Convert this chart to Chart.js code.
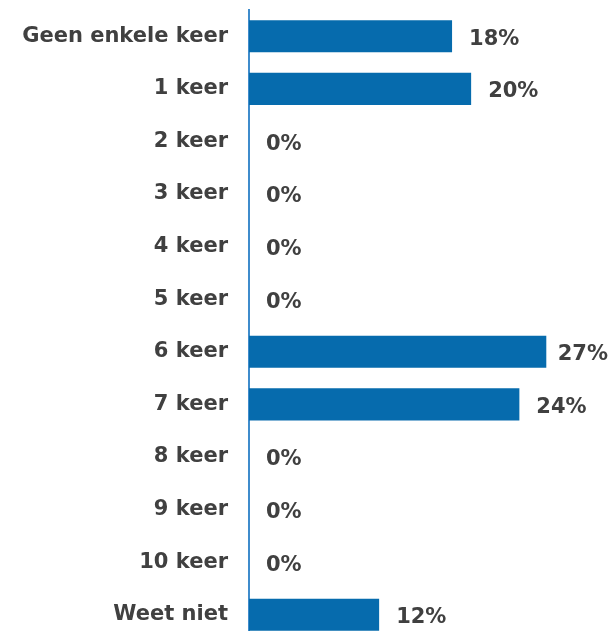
<!DOCTYPE html>
<html>
<head>
<meta charset="utf-8">
<script src="https://cdn.jsdelivr.net/npm/chart.js@4/dist/chart.umd.min.js"></script>
<style>
  html, body { margin: 0; padding: 0; background: #ffffff; overflow: hidden; }
  #wrap { width: 613px; height: 641px; }
</style>
</head>
<body>
<div id="wrap"><canvas id="c" width="613" height="641"></canvas></div>
<script>
const categories = ['Geen enkele keer', '1 keer', '2 keer', '3 keer', '4 keer', '5 keer', '6 keer', '7 keer', '8 keer', '9 keer', '10 keer', 'Weet niet'];
const values = [18.1, 19.8, 0, 0, 0, 0, 26.5, 24.1, 0, 0, 0, 11.6];
const valueLabels = ['18%', '20%', '0%', '0%', '0%', '0%', '27%', '24%', '0%', '0%', '0%', '12%'];

const FONT = '"DejaVu Sans", Verdana, sans-serif';
const TEXT = '#404040';

const valueLabelPlugin = {
  id: 'valueLabels',
  afterDatasetsDraw(chart) {
    const ctx = chart.ctx;
    const meta = chart.getDatasetMeta(0);
    const limit = chart.width - 5;
    ctx.save();
    ctx.font = 'bold 21px ' + FONT;
    ctx.fillStyle = TEXT;
    ctx.textAlign = 'left';
    ctx.textBaseline = 'middle';
    meta.data.forEach((bar, i) => {
      const w = ctx.measureText(valueLabels[i]).width;
      const x = Math.min(bar.x + 17, limit - w);
      ctx.fillText(valueLabels[i], x, bar.y + 3);
    });
    ctx.restore();
  }
};

new Chart(document.getElementById('c'), {
  type: 'bar',
  data: {
    labels: categories,
    datasets: [{
      data: values,
      backgroundColor: '#066bad',
      borderWidth: 0,
      categoryPercentage: 1,
      barPercentage: 0.61
    }]
  },
  options: {
    indexAxis: 'y',
    responsive: false,
    animation: false,
    layout: { padding: { top: 10, right: 5, bottom: 0, left: 0 } },
    plugins: { legend: { display: false }, tooltip: { enabled: false } },
    scales: {
      x: {
        display: false,
        min: 0,
        max: 32
      },
      y: {
        afterFit(scale) { scale.width = 249; scale.paddingTop = 0; scale.paddingBottom = 0; },
        grid: { display: false, drawTicks: false },
        border: { display: true, color: '#3f8ccc', width: 2 },
        ticks: {
          padding: 21,
          color: TEXT,
          font: { family: FONT, size: 21, weight: 'bold' }
        }
      }
    }
  },
  plugins: [valueLabelPlugin]
});
</script>
</body>
</html>
